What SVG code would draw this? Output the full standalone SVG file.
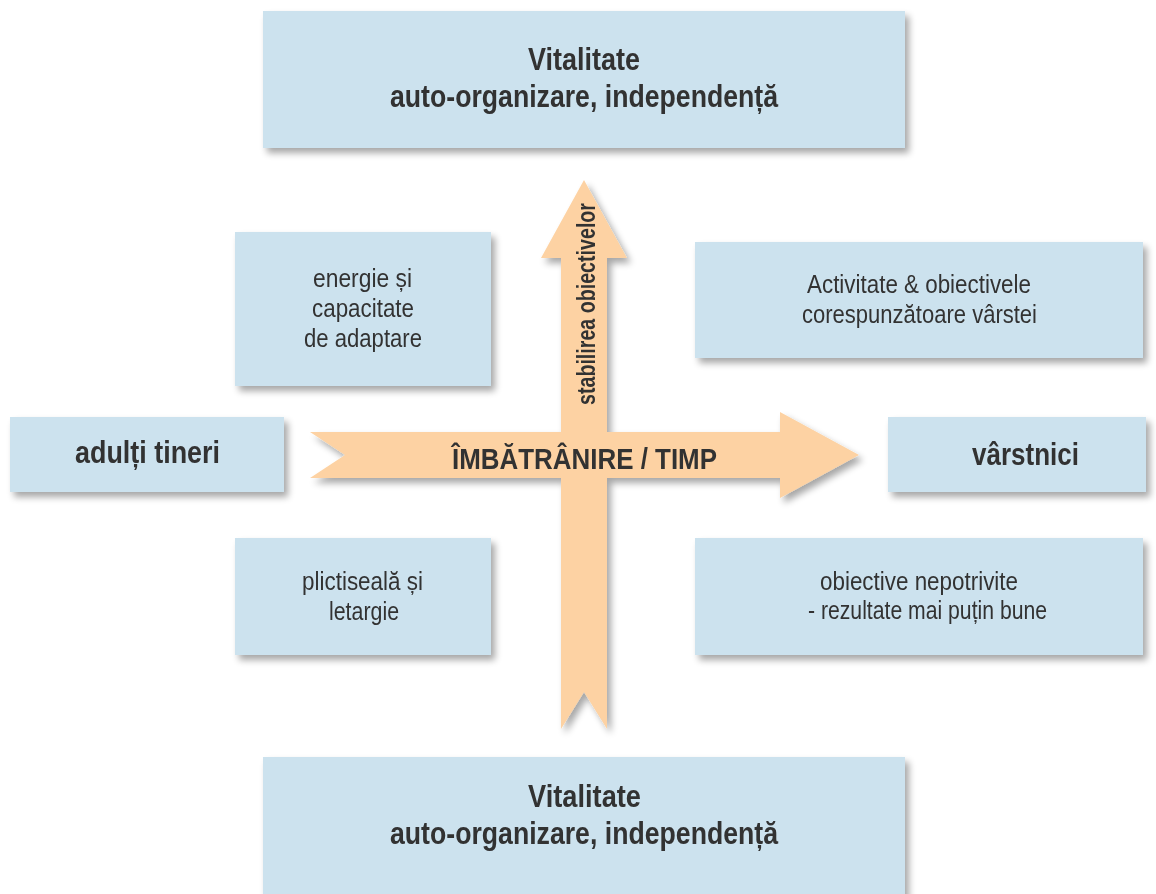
<svg xmlns="http://www.w3.org/2000/svg" width="1156" height="894" viewBox="0 0 1156 894">
  <style>
    .box { fill: #cce2ee; }
    .t { font-family: "Liberation Sans", Arial, sans-serif; fill: #333333; text-anchor: middle; }
    .b { font-weight: bold; }
    .big { font-size: 32px; }
    .mid { font-size: 25px; }
    .arrow { fill: #fdd2a3; }
  </style>
  <defs>
    <filter id="shadow" x="-10%" y="-10%" width="130%" height="140%">
      <feGaussianBlur in="SourceAlpha" stdDeviation="3.5"/>
      <feOffset dx="4" dy="5" result="off"/>
      <feComponentTransfer><feFuncA type="linear" slope="0.35"/></feComponentTransfer>
      <feMerge><feMergeNode/><feMergeNode in="SourceGraphic"/></feMerge>
    </filter>
  </defs>
  <rect width="1156" height="894" fill="#ffffff"/>

  <!-- crossing arrows: time axis and goal-setting axis -->
  <g id="connectors" filter="url(#shadow)">
    <path class="arrow" d="M561,729 L584,692 L607,729 L607,258 L627,258 L584,180 L541,258 L561,258 Z"/>
    <path class="arrow" d="M310,432 L780,432 L780,412 L859,455 L780,498 L780,478 L310,478 L345,455 Z"/>
    <text class="t b" x="584.5" y="469" font-size="29" textLength="265" lengthAdjust="spacingAndGlyphs">ÎMBĂTRÂNIRE / TIMP</text>
    <text class="t b" transform="translate(595,304) rotate(-90)" font-size="25" textLength="202" lengthAdjust="spacingAndGlyphs">stabilirea obiectivelor</text>
  </g>

  <g id="top" filter="url(#shadow)">
    <rect class="box" x="263" y="11" width="642" height="137"/>
    <text class="t b big" x="584" y="70" textLength="112" lengthAdjust="spacingAndGlyphs">Vitalitate</text>
    <text class="t b big" x="584" y="107" textLength="388" lengthAdjust="spacingAndGlyphs">auto-organizare, independență</text>
  </g>

  <g id="energie" filter="url(#shadow)">
    <rect class="box" x="235" y="232" width="256" height="154"/>
    <text class="t mid" x="362.5" y="287" textLength="99" lengthAdjust="spacingAndGlyphs">energie și</text>
    <text class="t mid" x="363" y="317" textLength="102" lengthAdjust="spacingAndGlyphs">capacitate</text>
    <text class="t mid" x="363" y="347" textLength="118" lengthAdjust="spacingAndGlyphs">de adaptare</text>
  </g>

  <g id="activitate" filter="url(#shadow)">
    <rect class="box" x="695" y="242" width="448" height="116"/>
    <text class="t mid" x="919" y="293" textLength="224" lengthAdjust="spacingAndGlyphs">Activitate &amp; obiectivele</text>
    <text class="t mid" x="919.5" y="323" textLength="235" lengthAdjust="spacingAndGlyphs">corespunzătoare vârstei</text>
  </g>

  <g id="adulti" filter="url(#shadow)">
    <rect class="box" x="10" y="417" width="274" height="75"/>
    <text class="t b big" x="147.5" y="463" textLength="145" lengthAdjust="spacingAndGlyphs">adulți tineri</text>
  </g>

  <g id="varstnici" filter="url(#shadow)">
    <rect class="box" x="888" y="417" width="258" height="75"/>
    <text class="t b big" x="1025.5" y="465" textLength="107" lengthAdjust="spacingAndGlyphs">vârstnici</text>
  </g>

  <g id="plictiseala" filter="url(#shadow)">
    <rect class="box" x="235" y="538" width="256" height="117"/>
    <text class="t mid" x="362.5" y="590" textLength="121" lengthAdjust="spacingAndGlyphs">plictiseală și</text>
    <text class="t mid" x="364" y="620" textLength="70" lengthAdjust="spacingAndGlyphs">letargie</text>
  </g>

  <g id="nepotrivite" filter="url(#shadow)">
    <rect class="box" x="695" y="538" width="448" height="117"/>
    <text class="t mid" x="919" y="590" textLength="198" lengthAdjust="spacingAndGlyphs">obiective nepotrivite</text>
    <text class="t mid" x="927.5" y="619" textLength="239" lengthAdjust="spacingAndGlyphs">- rezultate mai puțin bune</text>
  </g>

  <g id="bottom" filter="url(#shadow)">
    <rect class="box" x="263" y="757" width="642" height="150"/>
    <text class="t b big" x="584.5" y="807" textLength="113" lengthAdjust="spacingAndGlyphs">Vitalitate</text>
    <text class="t b big" x="584" y="844" textLength="388" lengthAdjust="spacingAndGlyphs">auto-organizare, independență</text>
  </g>
</svg>
